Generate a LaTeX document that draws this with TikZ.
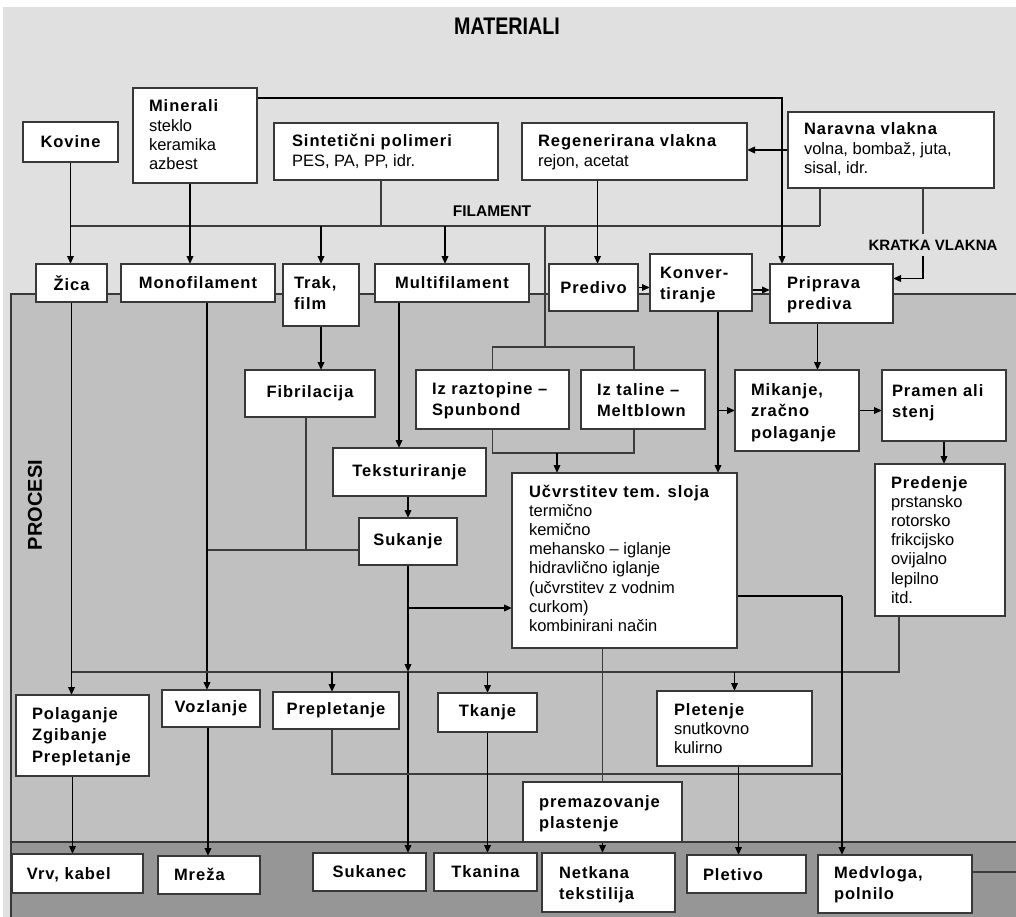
\documentclass[tikz,border=0pt]{standalone}
\usepackage{fontspec}
\usepackage{graphicx}
\setmainfont{Liberation Sans}
\newfontfamily\bfam{Liberation Sans}[LetterSpace=6]
\usetikzlibrary{arrows.meta,calc}
\pgfdeclarelayer{bg}\pgfdeclarelayer{lines}
\pgfsetlayers{bg,lines,main}
\definecolor{topc}{HTML}{E0E0E0}
\definecolor{midc}{HTML}{C0C0C0}
\definecolor{botc}{HTML}{969696}
\definecolor{bordc}{HTML}{383838}
\definecolor{lnc}{HTML}{3C3C3C}
\newcommand\fB{\bfam\bfseries\fontsize{16.5}{19.2}\selectfont}
\newcommand\fBm{\bfam\bfseries\fontsize{16.5}{21.5}\selectfont}
\newcommand\fR{\rmfamily\mdseries\fontsize{16.5}{19.2}\selectfont}
\newcommand\mybox[6]{\node[box, anchor=north west, minimum width={#4-#2}, minimum height={#5-#3}] (#1) at (#2,#3) {#6};}
\newcommand\mytext[5]{\node[txt, font=#4] (#1) at (#2,{#3-16}) {\rule{0pt}{16pt}#5};}
\begin{document}
\begin{tikzpicture}[x=1pt,y=-1pt,
  box/.style={draw=bordc, line width=1.4pt, fill=white, inner sep=0pt, outer sep=0pt, font=\fB, text=black},
  txt/.style={anchor=north west, inner sep=0pt, outer sep=0pt, align=left, text=black},
  arr/.style={line width=1.8pt, draw=black, -{Triangle[length=8pt,width=6.5pt]}},
  thk/.style={line width=1.8pt, draw=black},
  ln/.style={line width=1.4pt, draw=lnc}]
\useasboundingbox (0,0) rectangle (1016,917);
\begin{pgfonlayer}{bg}
\fill[white] (0,0) rectangle (1016,917);
\fill[topc] (3,7) rectangle (1016,917);
\fill[midc] (11,294) rectangle (1016,917);
\fill[botc] (11,842) rectangle (1016,917);
\draw[bordc, line width=1.3pt] (1016,294) -- (11,294) -- (11,917);
\draw[bordc, line width=1.3pt] (11,842) -- (1016,842);
\end{pgfonlayer}

% labels
\node[font=\bfseries\fontsize{24}{24}\selectfont] (mat) at (507,26) {\scalebox{0.82}[1]{MATERIALI}};
\node[font=\bfseries\fontsize{20}{20}\selectfont, rotate=90] (proc) at (35,505) {PROCESI};
\node[font=\bfseries\fontsize{15.5}{16}\selectfont] (fil) at (492,211) {FILAMENT};
\node[font=\bfseries\fontsize{15}{16}\selectfont, inner ysep=6pt, inner xsep=0pt] (kv) at (933,245) {KRATKA VLAKNA};

% boxes
\mybox{kov}{23}{122}{118}{162}{Kovine}
\mybox{min}{133}{88}{257}{183}{}
\mybox{sin}{274}{123}{498}{180}{}
\mybox{reg}{522}{123}{747}{180}{}
\mybox{nar}{788}{112}{994}{188}{}
\mybox{zica}{36}{264}{107}{302}{Žica}
\mybox{mono}{121}{264}{275}{302}{Monofilament}
\mybox{trak}{283}{264}{359}{326}{}
\mybox{multi}{375}{264}{529}{302}{Multifilament}
\mybox{pred}{549}{264}{638}{311}{Predivo}
\mybox{konv}{650}{254}{752}{311}{}
\mybox{prip}{770}{264}{893}{323}{}
\mybox{fib}{245}{370}{375}{417}{Fibrilacija}
\mybox{raz}{416}{370}{569}{429}{}
\mybox{tal}{581}{370}{705}{429}{}
\mybox{mik}{735}{370}{859}{451}{}
\mybox{pram}{882}{370}{1006}{441}{}
\mybox{teks}{333}{448}{486}{496}{Teksturiranje}
\mybox{ucv}{512}{473}{737}{648}{}
\mybox{pdj}{875}{464}{1005}{616}{}
\mybox{suk}{359}{518}{457}{565}{Sukanje}
\mybox{pol}{16}{695}{149}{776}{}
\mybox{voz}{162}{690}{260}{727}{Vozlanje}
\mybox{prep}{273}{692}{399}{729}{Prepletanje}
\mybox{tka}{438}{693}{537}{732}{Tkanje}
\mybox{plet}{657}{691}{812}{766}{}
\mybox{prem}{523}{782}{682}{842}{}
\mybox{vrv}{12}{854}{143}{893}{}
\mybox{mre}{158}{856}{260}{894}{}
\mybox{sukc}{313}{853}{426}{891}{Sukanec}
\mybox{tkn}{434}{853}{537}{891}{Tkanina}
\mybox{net}{542}{853}{675}{912}{}
\mybox{pltv}{687}{855}{806}{893}{}
\mybox{med}{818}{855}{972}{913}{}

% texts
\mytext{mint}{149}{112}{\fR}{{\fB Minerali}\\steklo\\keramika\\azbest}
\mytext{sint}{292}{147}{\fR}{{\fB Sintetični polimeri}\\PES, PA, PP, idr.}
\mytext{regt}{538}{147}{\fR}{{\fB Regenerirana vlakna}\\rejon, acetat}
\mytext{nart}{804}{135}{\fR}{{\fB Naravna vlakna}\\volna, bombaž, juta,\\sisal, idr.}
\mytext{trakt}{294}{288}{\fBm}{Trak,\\film}
\mytext{konvt}{660}{278}{\fBm}{Konver-\\tiranje}
\mytext{pript}{787}{288}{\fBm}{Priprava\\prediva}
\mytext{razt}{432}{394}{\fBm}{Iz raztopine –\\Spunbond}
\mytext{talt}{597}{395}{\fBm}{Iz taline –\\Meltblown}
\mytext{mikt}{751}{395}{\fBm}{Mikanje,\\zračno\\polaganje}
\mytext{pramt}{892}{396}{\fBm}{Pramen ali\\stenj}
\mytext{ucvt}{529}{497}{\fR}{{\fB Učvrstitev tem. sloja}\\termično\\kemično\\mehansko – iglanje\\hidravlično iglanje\\(učvrstitev z vodnim\\curkom)\\kombinirani način}
\mytext{pdjt}{891}{488}{\fR}{{\fB Predenje}\\prstansko\\rotorsko\\frikcijsko\\ovijalno\\lepilno\\itd.}
\mytext{polt}{32}{719}{\fBm}{Polaganje\\Zgibanje\\Prepletanje}
\mytext{pletT}{674}{715}{\fR}{{\fB Pletenje}\\snutkovno\\kulirno}
\mytext{premt}{539}{807}{\fBm}{premazovanje\\plastenje}
\mytext{nett}{559}{878}{\fBm}{Netkana\\tekstilija}
\mytext{medt}{834}{878}{\fBm}{Medvloga,\\polnilo}
\mytext{vrvt}{27}{879}{\fB}{Vrv, kabel}
\mytext{mret}{174}{880}{\fB}{Mreža}
\mytext{pltvt}{703}{880}{\fB}{Pletivo}

% coordinates
\coordinate (filL) at (71,226);
\coordinate (filR) at (820,226);
\coordinate (brT) at (545,347);
\coordinate (brB) at (557,453);
\coordinate (sinB) at ([xshift=-5pt]sin.south);
\coordinate (minB) at ([xshift=-5pt]min.south);
\coordinate (mulT) at ([xshift=-7pt]multi.north);
\coordinate (talN) at ([xshift=-9pt]tal.north);
\coordinate (talS) at ([xshift=-9pt]tal.south);
\coordinate (predT) at ([xshift=4pt]pred.north);
\coordinate (minR) at ([yshift=-10pt]min.north east);
\coordinate (pripT) at ([xshift=12pt]prip.north west);
\coordinate (kx) at ([xshift=-71pt]nar.south east);
\coordinate (pripE) at ([yshift=15pt]prip.east);
\coordinate (konvE) at ([yshift=-7.5pt]konv.east);
\coordinate (kd) at ([xshift=17pt]konv.south);
\coordinate (pripB) at ([xshift=-14pt]prip.south);
\coordinate (multB) at ([xshift=-53pt]multi.south);
\coordinate (fibB) at ([xshift=-4pt]fib.south);
\coordinate (mx) at ([xshift=9pt]mono.south);
\coordinate (fh) at (0,550);
\coordinate (dl) at (0,672);
\coordinate (pdjB) at ([xshift=-41pt]pdj.south);
\coordinate (prepT) at ([xshift=-4pt]prep.north);
\coordinate (prepB) at ([xshift=-4pt]prep.south);
\coordinate (br2) at (0,608);
\coordinate (mq) at ([xshift=-53pt]med.north);
\coordinate (uy) at (0,596);
\coordinate (py) at (0,774);
\coordinate (polB) at ([xshift=-10pt]pol.south);
\coordinate (vozB) at ([xshift=-3pt]voz.south);
\coordinate (pletB) at ([xshift=4pt]plet.south);
\coordinate (medE) at ([yshift=12pt]med.east);

\begin{pgfonlayer}{lines}
\draw[arr] (kov.south) -- (kov.south |- zica.north);
\draw[ln] (filL) -- (filR);
\draw[ln] (nar.south -| filR) -- (filR);
\draw[ln] (sinB) -- (sinB |- filL);
\draw[arr] (minB) -- (minB |- mono.north);
\draw[arr] (trak.north |- filL) -- (trak.north);
\draw[arr] (mulT |- filL) -- (mulT);
\draw[ln] (brT |- filL) -- (brT);
\draw[ln] (raz.north) -- (raz.north |- brT) -- (talN |- brT) -- (talN);
\draw[ln] (raz.south) -- (raz.south |- brB) -- (talS |- brB) -- (talS);
\draw[arr] (brB) -- (brB |- ucv.north);
\draw[arr] (predT |- reg.south) -- (predT);
\draw[arr] (nar.west) -- (nar.west -| reg.east);
\draw[arr] (minR) -| (pripT);
\draw[ln] (kx) -- (kx |- kv.north);
\draw[arr] (kx |- kv.south) |- (pripE);
\draw[arr] (pred.east) -- (pred.east -| konv.west);
\draw[arr] (konvE) -- (konvE -| prip.west);
\draw[arr] (kd) -- (kd |- ucv.north);
\draw[arr] (kd |- mik.west) -- (mik.west);
\draw[arr] (pripB) -- (pripB |- mik.north);
\draw[arr] (mik.east) -- (mik.east -| pram.west);
\draw[arr] (pram.south) -- (pram.south |- pdj.north);
\draw[arr] (trak.south) -- (trak.south |- fib.north);
\draw[arr] (multB) -- (multB |- teks.north);
\draw[arr] (suk.north |- teks.south) -- (suk.north);
\draw[ln] (fibB) -- (fibB |- fh);
\draw[ln] (mx |- fh) -- (suk.west |- fh);
\draw[arr] (mx) -- (mx |- voz.north);
\draw[arr] (zica.south) -- (zica.south |- pol.north);
\draw[ln] (pdjB) -- (pdjB |- dl) -- (zica.south |- dl);
\draw[arr] (prepT |- dl) -- (prepT);
\draw[arr] (tka.north |- dl) -- (tka.north);
\draw[arr] (plet.north |- dl) -- (plet.north);
\draw[arr] (suk.south) -- (suk.south |- dl);
\draw[arr] (suk.south |- dl) -- (suk.south |- sukc.north);
\draw[arr] (suk.south |- br2) -- (ucv.west |- br2);
\draw[ln] (prem.north |- ucv.south) -- (prem.north);
\draw[arr] (prem.south) -- (prem.south |- net.north);
\draw[thk] (ucv.east |- uy) -- (mq |- uy);
\draw[arr] (mq |- uy) -- (mq);
\draw[ln] (prepB) -- (prepB |- py) -- (mq |- py);
\draw[arr] (polB) -- (polB |- vrv.north);
\draw[arr] (vozB) -- (vozB |- mre.north);
\draw[arr] (tka.south) -- (tka.south |- tkn.north);
\draw[arr] (pletB) -- (pletB |- pltv.north);
\draw[ln] (medE) -- ++(60,0);
\end{pgfonlayer}
\end{tikzpicture}
\end{document}
